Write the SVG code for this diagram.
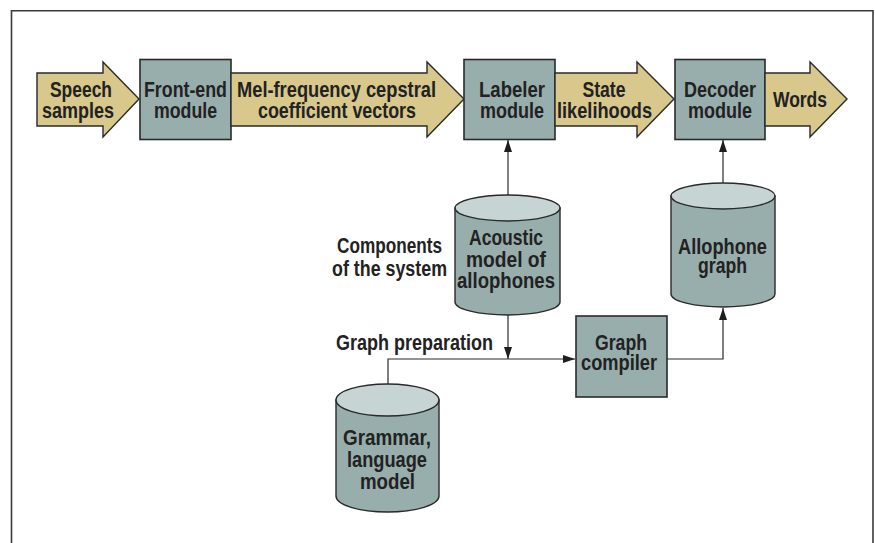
<svg xmlns="http://www.w3.org/2000/svg" width="875" height="543" viewBox="0 0 875 543">
  <defs>
    <marker id="tip" viewBox="0 0 12 8" refX="12" refY="4" markerWidth="12" markerHeight="8" markerUnits="userSpaceOnUse" orient="auto">
      <path d="M0,0 L12,4 L0,8 Z" fill="#1e1e1e"/>
    </marker>
    <style>
      .frame { fill: none; stroke: #3a3a3a; stroke-width: 1.6; }
      .flow { fill: #d8c88b; stroke: #2a2a2a; stroke-width: 1.4; stroke-linejoin: miter; }
      .box { fill: #98aead; stroke: #2a2a2a; stroke-width: 1.6; }
      .drum { fill: #98aead; stroke: #2a2a2a; stroke-width: 1.4; }
      .lid { fill: #c6d4d3; stroke: #2a2a2a; stroke-width: 1.4; }
      .wire { fill: none; stroke: #2a2a2a; stroke-width: 1.2; marker-end: url(#tip); }
      .plain { fill: none; stroke: #2a2a2a; stroke-width: 1.2; }
      text { font-family: "Liberation Sans", Arial, sans-serif; font-weight: bold; font-size: 22px; fill: #222; text-anchor: middle; }
    </style>
  </defs>

  <!-- outer frame, open at the bottom -->
  <path class="frame" d="M11.5,543 V10.8 H873 V543"/>

  <!-- signal path: tan flow arrows and processing modules -->
  <g id="speech-samples">
    <path class="flow" d="M37,73 H103 V62 L139,99 L103,137 V126 H37 Z"/>
    <text x="81" y="97" textLength="62" lengthAdjust="spacingAndGlyphs">Speech</text>
    <text x="78" y="118" textLength="72" lengthAdjust="spacingAndGlyphs">samples</text>
  </g>
  <g id="front-end">
    <rect class="box" x="140" y="59.5" width="91" height="80"/>
    <text x="185.5" y="97" textLength="83" lengthAdjust="spacingAndGlyphs">Front-end</text>
    <text x="185.5" y="118" textLength="63" lengthAdjust="spacingAndGlyphs">module</text>
  </g>
  <g id="mfcc-vectors">
    <path class="flow" d="M231,73 H427 V62 L464,99 L427,137 V126 H231 Z"/>
    <text x="336.5" y="97" textLength="199" lengthAdjust="spacingAndGlyphs">Mel-frequency cepstral</text>
    <text x="337" y="118" textLength="158" lengthAdjust="spacingAndGlyphs">coefficient vectors</text>
  </g>
  <g id="labeler">
    <rect class="box" x="464" y="59.5" width="91" height="80"/>
    <text x="512" y="97" textLength="66" lengthAdjust="spacingAndGlyphs">Labeler</text>
    <text x="512" y="118" textLength="64" lengthAdjust="spacingAndGlyphs">module</text>
  </g>
  <g id="state-likelihoods">
    <path class="flow" d="M555,73 H637 V62 L674,99 L637,137 V126 H555 Z"/>
    <text x="604" y="97" textLength="43" lengthAdjust="spacingAndGlyphs">State</text>
    <text x="604.5" y="118" textLength="95" lengthAdjust="spacingAndGlyphs">likelihoods</text>
  </g>
  <g id="decoder">
    <rect class="box" x="675" y="59.5" width="90" height="80"/>
    <text x="720" y="97" textLength="72" lengthAdjust="spacingAndGlyphs">Decoder</text>
    <text x="720" y="118" textLength="64" lengthAdjust="spacingAndGlyphs">module</text>
  </g>
  <g id="words">
    <path class="flow" d="M765,73 H810 V62 L847,99 L810,137 V126 H765 Z"/>
    <text x="800" y="107" textLength="54" lengthAdjust="spacingAndGlyphs">Words</text>
  </g>

  <!-- stored models -->
  <g id="acoustic-model">
    <path class="drum" d="M455,208 V302 A52.5,13 0 0 0 560,302 V208 Z"/>
    <ellipse class="lid" cx="507.5" cy="208" rx="52.5" ry="13"/>
    <text x="506" y="245" textLength="74" lengthAdjust="spacingAndGlyphs">Acoustic</text>
    <text x="506" y="267" textLength="80" lengthAdjust="spacingAndGlyphs">model of</text>
    <text x="506" y="288" textLength="98" lengthAdjust="spacingAndGlyphs">allophones</text>
  </g>
  <g id="allophone-graph">
    <path class="drum" d="M671,196 V294 A52,13 0 0 0 775,294 V196 Z"/>
    <ellipse class="lid" cx="723" cy="196" rx="52" ry="13"/>
    <text x="722.5" y="254" textLength="89" lengthAdjust="spacingAndGlyphs">Allophone</text>
    <text x="722.5" y="273" textLength="49" lengthAdjust="spacingAndGlyphs">graph</text>
  </g>
  <g id="grammar-model">
    <path class="drum" d="M336,400 V496 A51.5,16 0 0 0 439,496 V400 Z"/>
    <ellipse class="lid" cx="387.5" cy="400" rx="51.5" ry="16"/>
    <text x="387" y="445" textLength="88" lengthAdjust="spacingAndGlyphs">Grammar,</text>
    <text x="387" y="467" textLength="80" lengthAdjust="spacingAndGlyphs">language</text>
    <text x="387.5" y="489" textLength="55" lengthAdjust="spacingAndGlyphs">model</text>
  </g>
  <g id="graph-compiler">
    <rect class="box" x="576" y="316" width="91" height="81"/>
    <text x="621" y="350" textLength="52" lengthAdjust="spacingAndGlyphs">Graph</text>
    <text x="619" y="370" textLength="76" lengthAdjust="spacingAndGlyphs">compiler</text>
  </g>

  <!-- section captions -->
  <g id="captions">
    <text x="389.5" y="253" textLength="105" lengthAdjust="spacingAndGlyphs">Components</text>
    <text x="389.5" y="276" textLength="115" lengthAdjust="spacingAndGlyphs">of the system</text>
    <text x="414.5" y="350" textLength="157" lengthAdjust="spacingAndGlyphs">Graph preparation</text>
  </g>

  <!-- connectors -->
  <g id="connectors">
    <path class="wire" d="M508,195 V140"/>
    <path class="wire" d="M723,183 V140"/>
    <path class="wire" d="M508,315 V359"/>
    <path class="plain" d="M388,384 V359 H508"/>
    <path class="wire" d="M508,359 H575"/>
    <path class="wire" d="M667,359 H723 V308"/>
  </g>
</svg>
